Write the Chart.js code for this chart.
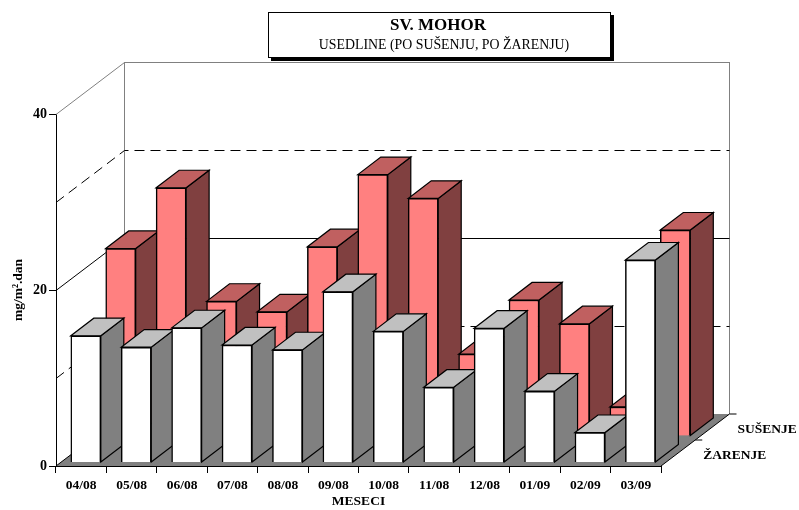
<!DOCTYPE html>
<html>
<head>
<meta charset="utf-8">
<script src="https://cdn.jsdelivr.net/npm/chart.js@4"></script>
<style>
    body { margin: 0; background: #fff; }
    #wrap { position: relative; width: 799px; height: 510px; overflow: hidden; }
    #title-box {
        position: absolute; left: 268px; top: 12px; width: 341px; height: 44px;
        border: 1px solid #000; box-shadow: 3px 3px 0 #000; background: #fff;
        text-align: center; font-family: "Liberation Serif", serif; color: #000;
    }
    #title-box .main { font-weight: bold; font-size: 17px; line-height: 19px; margin: 2px 3px 0 0; }
    #title-box .sub { font-size: 13.85px; line-height: 17px; margin: 2px 0 0 9px; }
</style>
</head>
<body>
<div id="wrap">
    <div id="title-box">
        <div class="main">SV. MOHOR</div>
        <div class="sub">USEDLINE (PO SUŠENJU, PO ŽARENJU)</div>
    </div>
    <canvas id="chart" width="799" height="510"></canvas>
</div>
<script>
const months = ['04/08', '05/08', '06/08', '07/08', '08/08', '09/08', '10/08', '11/08', '12/08', '01/09', '02/09', '03/09'];
const zarenje = [14.4, 13.1, 15.3, 13.35, 12.8, 19.4, 14.9, 8.55, 15.25, 8.1, 3.4, 23.0];
const susenje = [21.3, 28.2, 15.3, 14.1, 21.5, 29.7, 27.0, 9.3, 15.45, 12.75, 3.3, 23.4];

// how far the floor and each bar go back into the picture
const FLOOR_DX = 68.5, FLOOR_DY = -52;
const BAR_DX = 23, BAR_DY = -17.6;
const ROW_OFFSET = [[4.6, -3.5], [39.5, -30]];
const FACE_COLORS = [
    {side: '#808080', top: '#c0c0c0'},
    {side: '#804040', top: '#c06060'},
];
const SERIF_BOLD = 'bold 13.5px "Liberation Serif", serif';

function poly(ctx, pts, fill, stroke, lineWidth) {
    ctx.beginPath();
    pts.forEach((p, i) => i ? ctx.lineTo(p[0], p[1]) : ctx.moveTo(p[0], p[1]));
    ctx.closePath();
    if (fill) {
        ctx.fillStyle = fill;
        ctx.fill();
    }
    if (stroke) {
        ctx.strokeStyle = stroke;
        ctx.lineWidth = lineWidth;
        ctx.stroke();
    }
}

const walls3d = {
    id: 'walls3d',
    beforeDatasetsDraw(chart) {
        const ctx = chart.ctx;
        const {left, right, top, bottom} = chart.chartArea;
        const y = chart.scales.y;
        ctx.save();

        // back wall edges
        ctx.strokeStyle = '#808080';
        ctx.lineWidth = 1;
        ctx.beginPath();
        ctx.moveTo(left + FLOOR_DX, bottom + FLOOR_DY);
        ctx.lineTo(left + FLOOR_DX, top + FLOOR_DY);
        ctx.moveTo(right + FLOOR_DX, top + FLOOR_DY);
        ctx.lineTo(right + FLOOR_DX, bottom + FLOOR_DY);
        ctx.stroke();

        // grid lines run over the side wall and then the back wall
        y.ticks.forEach(t => {
            if (t.value === 0) return;
            const py = y.getPixelForValue(t.value) + 0.5;
            ctx.strokeStyle = t.value === 40 ? '#808080' : '#000';
            ctx.setLineDash(t.value % 20 ? [10, 6] : []);
            ctx.beginPath();
            ctx.moveTo(left, py);
            ctx.lineTo(left + FLOOR_DX, py + FLOOR_DY);
            ctx.lineTo(right + FLOOR_DX, py + FLOOR_DY);
            ctx.stroke();
        });
        ctx.setLineDash([]);

        // floor
        poly(ctx, [
            [left, bottom],
            [left + FLOOR_DX, bottom + FLOOR_DY],
            [right + FLOOR_DX, bottom + FLOOR_DY],
            [right, bottom],
        ], '#808080');
        ctx.strokeStyle = '#000';
        ctx.beginPath();
        ctx.moveTo(left + FLOOR_DX, bottom + FLOOR_DY);
        ctx.lineTo(left, bottom);
        ctx.moveTo(right, bottom);
        ctx.lineTo(right + FLOOR_DX, bottom + FLOOR_DY);
        ctx.stroke();

        // depth ticks and series names on the right
        ctx.beginPath();
        ctx.moveTo(right + FLOOR_DX, bottom + FLOOR_DY);
        ctx.lineTo(right + FLOOR_DX + 7, bottom + FLOOR_DY);
        ctx.moveTo(right + FLOOR_DX / 2, bottom + FLOOR_DY / 2);
        ctx.lineTo(right + FLOOR_DX / 2 + 7, bottom + FLOOR_DY / 2);
        ctx.stroke();
        ctx.fillStyle = '#000';
        ctx.font = SERIF_BOLD;
        ctx.textAlign = 'left';
        ctx.textBaseline = 'middle';
        ctx.fillText(chart.data.datasets[1].label, right + FLOOR_DX + 8, bottom + FLOOR_DY + 15.5);
        ctx.fillText(chart.data.datasets[0].label, right + FLOOR_DX / 2 + 8, bottom + FLOOR_DY / 2 + 15.5);
        ctx.restore();
    },
    beforeDatasetDraw(chart, args) {
        const ctx = chart.ctx;
        const colors = FACE_COLORS[args.index];
        const offset = ROW_OFFSET[args.index];
        ctx.save();
        ctx.translate(offset[0], offset[1]);
        // sides and tops go first, the library then paints the front faces over them
        args.meta.data.forEach(bar => {
            const r = bar.x + bar.width / 2;
            const l = bar.x - bar.width / 2;
            poly(ctx, [[r, bar.y], [r + BAR_DX, bar.y + BAR_DY], [r + BAR_DX, bar.base + BAR_DY], [r, bar.base]], colors.side, '#000', 1.2);
            poly(ctx, [[l, bar.y], [l + BAR_DX, bar.y + BAR_DY], [r + BAR_DX, bar.y + BAR_DY], [r, bar.y]], colors.top, '#000', 1.2);
        });
    },
    afterDatasetDraw(chart) {
        chart.ctx.restore();
    },
};

new Chart(document.getElementById('chart').getContext('2d'), {
    type: 'bar',
    data: {
        labels: months,
        datasets: [
            {label: 'ŽARENJE', data: zarenje, backgroundColor: '#ffffff'},
            {label: 'SUŠENJE', data: susenje, backgroundColor: '#ff8080'},
        ],
    },
    plugins: [walls3d],
    options: {
        responsive: false,
        animation: false,
        layout: {padding: {left: 0, right: 138, top: 114, bottom: 0}},
        datasets: {
            bar: {
                grouped: false,
                barThickness: 30,
                borderColor: '#000',
                borderWidth: 1.5,
                clip: false,
            },
        },
        plugins: {
            legend: {display: false},
            tooltip: {enabled: false},
            title: {display: false},
        },
        scales: {
            x: {
                afterFit: scale => { scale.height = 44; },
                border: {color: '#000'},
                grid: {drawOnChartArea: false, tickLength: 7, tickColor: '#000'},
                ticks: {color: '#000', font: {family: 'Liberation Serif', weight: 'bold', size: 13.5}, padding: 4, maxRotation: 0, autoSkip: false},
                title: {
                    display: true,
                    text: 'MESECI',
                    color: '#000',
                    font: {family: 'Liberation Serif', weight: 'bold', size: 13.5},
                    padding: {top: 1, bottom: 0},
                },
            },
            y: {
                min: 0,
                max: 40,
                afterFit: scale => { scale.width = 56; },
                border: {color: '#000'},
                grid: {
                    drawOnChartArea: false,
                    tickLength: 7,
                    tickColor: c => (c.tick.value % 20 ? 'transparent' : '#000'),
                },
                ticks: {
                    stepSize: 10,
                    color: '#000',
                    font: {family: 'Liberation Serif', weight: 'bold', size: 14},
                    padding: 2,
                    callback: v => (v % 20 ? '' : v),
                },
                title: {
                    display: true,
                    text: 'mg/m².dan',
                    color: '#000',
                    font: {family: 'Liberation Serif', weight: 'bold', size: 13.5},
                    padding: {top: 10, bottom: 0},
                },
            },
        },
    },
});
</script>
</body>
</html>
